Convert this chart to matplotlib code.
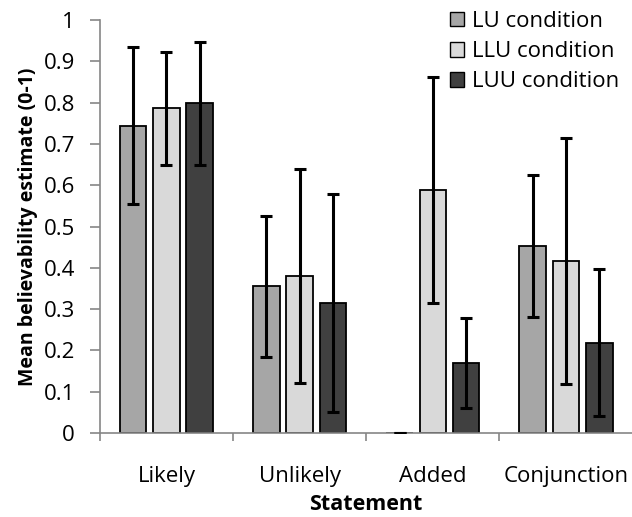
import numpy as np
import matplotlib
matplotlib.use("Agg")
import matplotlib.pyplot as plt

plt.rcParams['font.family'] = ['Open Sans', 'DejaVu Sans']

statements = ["Likely", "Unlikely", "Added", "Conjunction"]
conditions = ["LU condition", "LLU condition", "LUU condition"]

# mean believability per condition (order follows statements)
lu_mean = [0.744, 0.355, 0.0, 0.454]
llu_mean = [0.787, 0.380, 0.588, 0.416]
luu_mean = [0.799, 0.314, 0.169, 0.219]

# error bar half widths
lu_err = [0.190, 0.171, 0.0, 0.172]
llu_err = [0.137, 0.259, 0.274, 0.298]
luu_err = [0.149, 0.264, 0.109, 0.178]

colors = ["#A6A6A6", "#D9D9D9", "#404040"]

fig = plt.figure(figsize=(6.32, 5.17), dpi=100)
ax = fig.add_axes([0.158, 0.1625, 0.843, 0.7985])

x = np.arange(len(statements))
means = [lu_mean, llu_mean, luu_mean]
errs = [lu_err, llu_err, luu_err]
for i in range(3):
    ax.bar(x + (i - 1) * 0.25, means[i], 0.2, color=colors[i], edgecolor="black",
           linewidth=1.3, label=conditions[i], zorder=2,
           yerr=errs[i], error_kw=dict(ecolor="black", elinewidth=2.2, capsize=4.2, capthick=2.2, zorder=3))

ax.set_xlim(-0.5, 3.5)
ax.set_ylim(0, 1)
ax.set_yticks(np.arange(0, 1.01, 0.1))
ax.set_yticklabels(["0"] + ["%.1f" % v for v in np.arange(0.1, 0.95, 0.1)] + ["1"])
ax.set_xticks(x)
ax.set_xticklabels(statements)
ax.set_xticks(np.arange(-0.5, 3.6, 1), minor=True)
ax.tick_params(axis="x", which="major", length=0, labelsize=16, pad=24)
ax.tick_params(axis="x", which="minor", length=6, color="#868686", width=1.2)
ax.tick_params(axis="y", length=7, color="#868686", width=1.2, labelsize=16, pad=11)

for s in ["top", "right"]:
    ax.spines[s].set_visible(False)
for s in ["left", "bottom"]:
    ax.spines[s].set_color("#868686")
    ax.spines[s].set_linewidth(1.2)

ax.set_ylabel("Mean believability estimate (0-1)", fontsize=14, fontweight="bold", labelpad=4)
ax.set_xlabel("Statement", fontsize=15.5, fontweight="bold", labelpad=5)

leg = ax.legend(loc="upper right", bbox_to_anchor=(1.0, 1.055), frameon=False, fontsize=16,
                handlelength=0.62, handleheight=0.62, handletextpad=0.35, labelspacing=0.42,
                borderaxespad=0.2)
for h in leg.legend_handles:
    h.set_linewidth(1.0)

fig.savefig("out.png", dpi=100)
